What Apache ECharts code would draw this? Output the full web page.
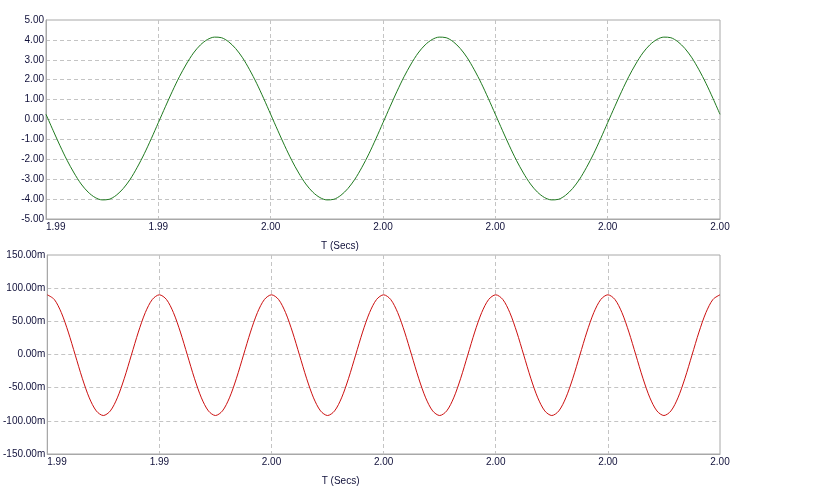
<!DOCTYPE html>
<html><head><meta charset="utf-8">
<script src="https://cdn.jsdelivr.net/npm/echarts@6/dist/echarts.min.js"></script>
<style>html,body{margin:0;padding:0;background:#fff}#c{width:816px;height:490px}</style>
</head><body><div id="c"></div>
<script>
// sampling grid of the time axis (seconds)
const tStart = 1.994, tEnd = 2.000, tStep = 0.0000625;
const xTickLabels = ['1.99','1.99','2.00','2.00','2.00','2.00','2.00'];
const xTickStep = 0.001;
// top trace (V), one value per sample
const topCycle = [0.26,-0.54,-1.32,-2.05,-2.69,-3.24,-3.65,-3.92,-4.04,-4.01,-3.81,-3.47,-3.00,-2.40,-1.72,-0.96,
                  -0.16,0.64,1.42,2.15,2.79,3.34,3.75,4.02,4.14,4.11,3.91,3.57,3.10,2.50,1.82,1.06];
const topValues = [].concat(topCycle, topCycle, topCycle, [0.26]);
// bottom trace (mV)
const botCycle = [90,83.07,63.35,33.82,-1,-35.82,-65.35,-85.07,-92,-85.07,-65.35,-35.82,-1,33.82,63.35,83.07];
const botValues = [].concat(botCycle, botCycle, botCycle, botCycle, botCycle, botCycle, [90]);

const pairs = vals => vals.map((v, i) => [tStart + i * tStep, v]);
const font = 'Liberation Sans, Arial, sans-serif';
const labelColor = '#10103a';
function xAxis(gi) {
  return {
    type: 'value', gridIndex: gi, min: tStart, max: tEnd, interval: xTickStep,
    name: 'T (Secs)', nameLocation: 'middle', nameGap: 22,
    nameTextStyle: { color: labelColor, fontSize: 10, fontFamily: font, padding: [0, 86, 0, 0] },
    axisLine: { show: true, onZero: false, lineStyle: { color: '#a8a8a8' } },
    axisTick: { show: false },
    axisLabel: {
      color: labelColor, fontSize: 10, fontFamily: font, margin: 3, alignMinLabel: 'left',
      formatter: v => xTickLabels[Math.round((v - tStart) / xTickStep)] || ''
    },
    splitLine: { show: true, showMinLine: false, showMaxLine: false, lineStyle: { color: '#c4c4c4', type: [4, 3] } }
  };
}
function yAxis(gi, min, max, iv, fmt) {
  return {
    type: 'value', gridIndex: gi, min: min, max: max, interval: iv,
    axisLine: { show: true, onZero: false, lineStyle: { color: '#a8a8a8' } },
    axisTick: { show: false },
    axisLabel: { color: labelColor, fontSize: 10, fontFamily: font, margin: 2, formatter: fmt },
    splitLine: { show: true, showMinLine: false, showMaxLine: false, lineStyle: { color: '#c4c4c4', type: [4, 3] } }
  };
}
const chart = echarts.init(document.getElementById('c'), null, { renderer: 'canvas' });
chart.setOption({
  animation: false,
  backgroundColor: '#fff',
  grid: [
    { left: 46, top: 20, width: 674, height: 199, show: true, borderColor: '#a8a8a8', borderWidth: 1 },
    { left: 46, top: 255, width: 674, height: 199, show: true, borderColor: '#a8a8a8', borderWidth: 1 }
  ],
  xAxis: [xAxis(0), xAxis(1)],
  yAxis: [
    yAxis(0, -5, 5, 1, v => v.toFixed(2)),
    yAxis(1, -150, 150, 50, v => v.toFixed(2) + 'm')
  ],
  series: [
    { type: 'line', xAxisIndex: 0, yAxisIndex: 0, data: pairs(topValues), showSymbol: false, smooth: 0.3,
      lineStyle: { color: '#1f7a1f', width: 1 } },
    { type: 'line', xAxisIndex: 1, yAxisIndex: 1, data: pairs(botValues), showSymbol: false, smooth: 0.3,
      lineStyle: { color: '#cc1010', width: 1 } }
  ]
});
</script></body></html>
